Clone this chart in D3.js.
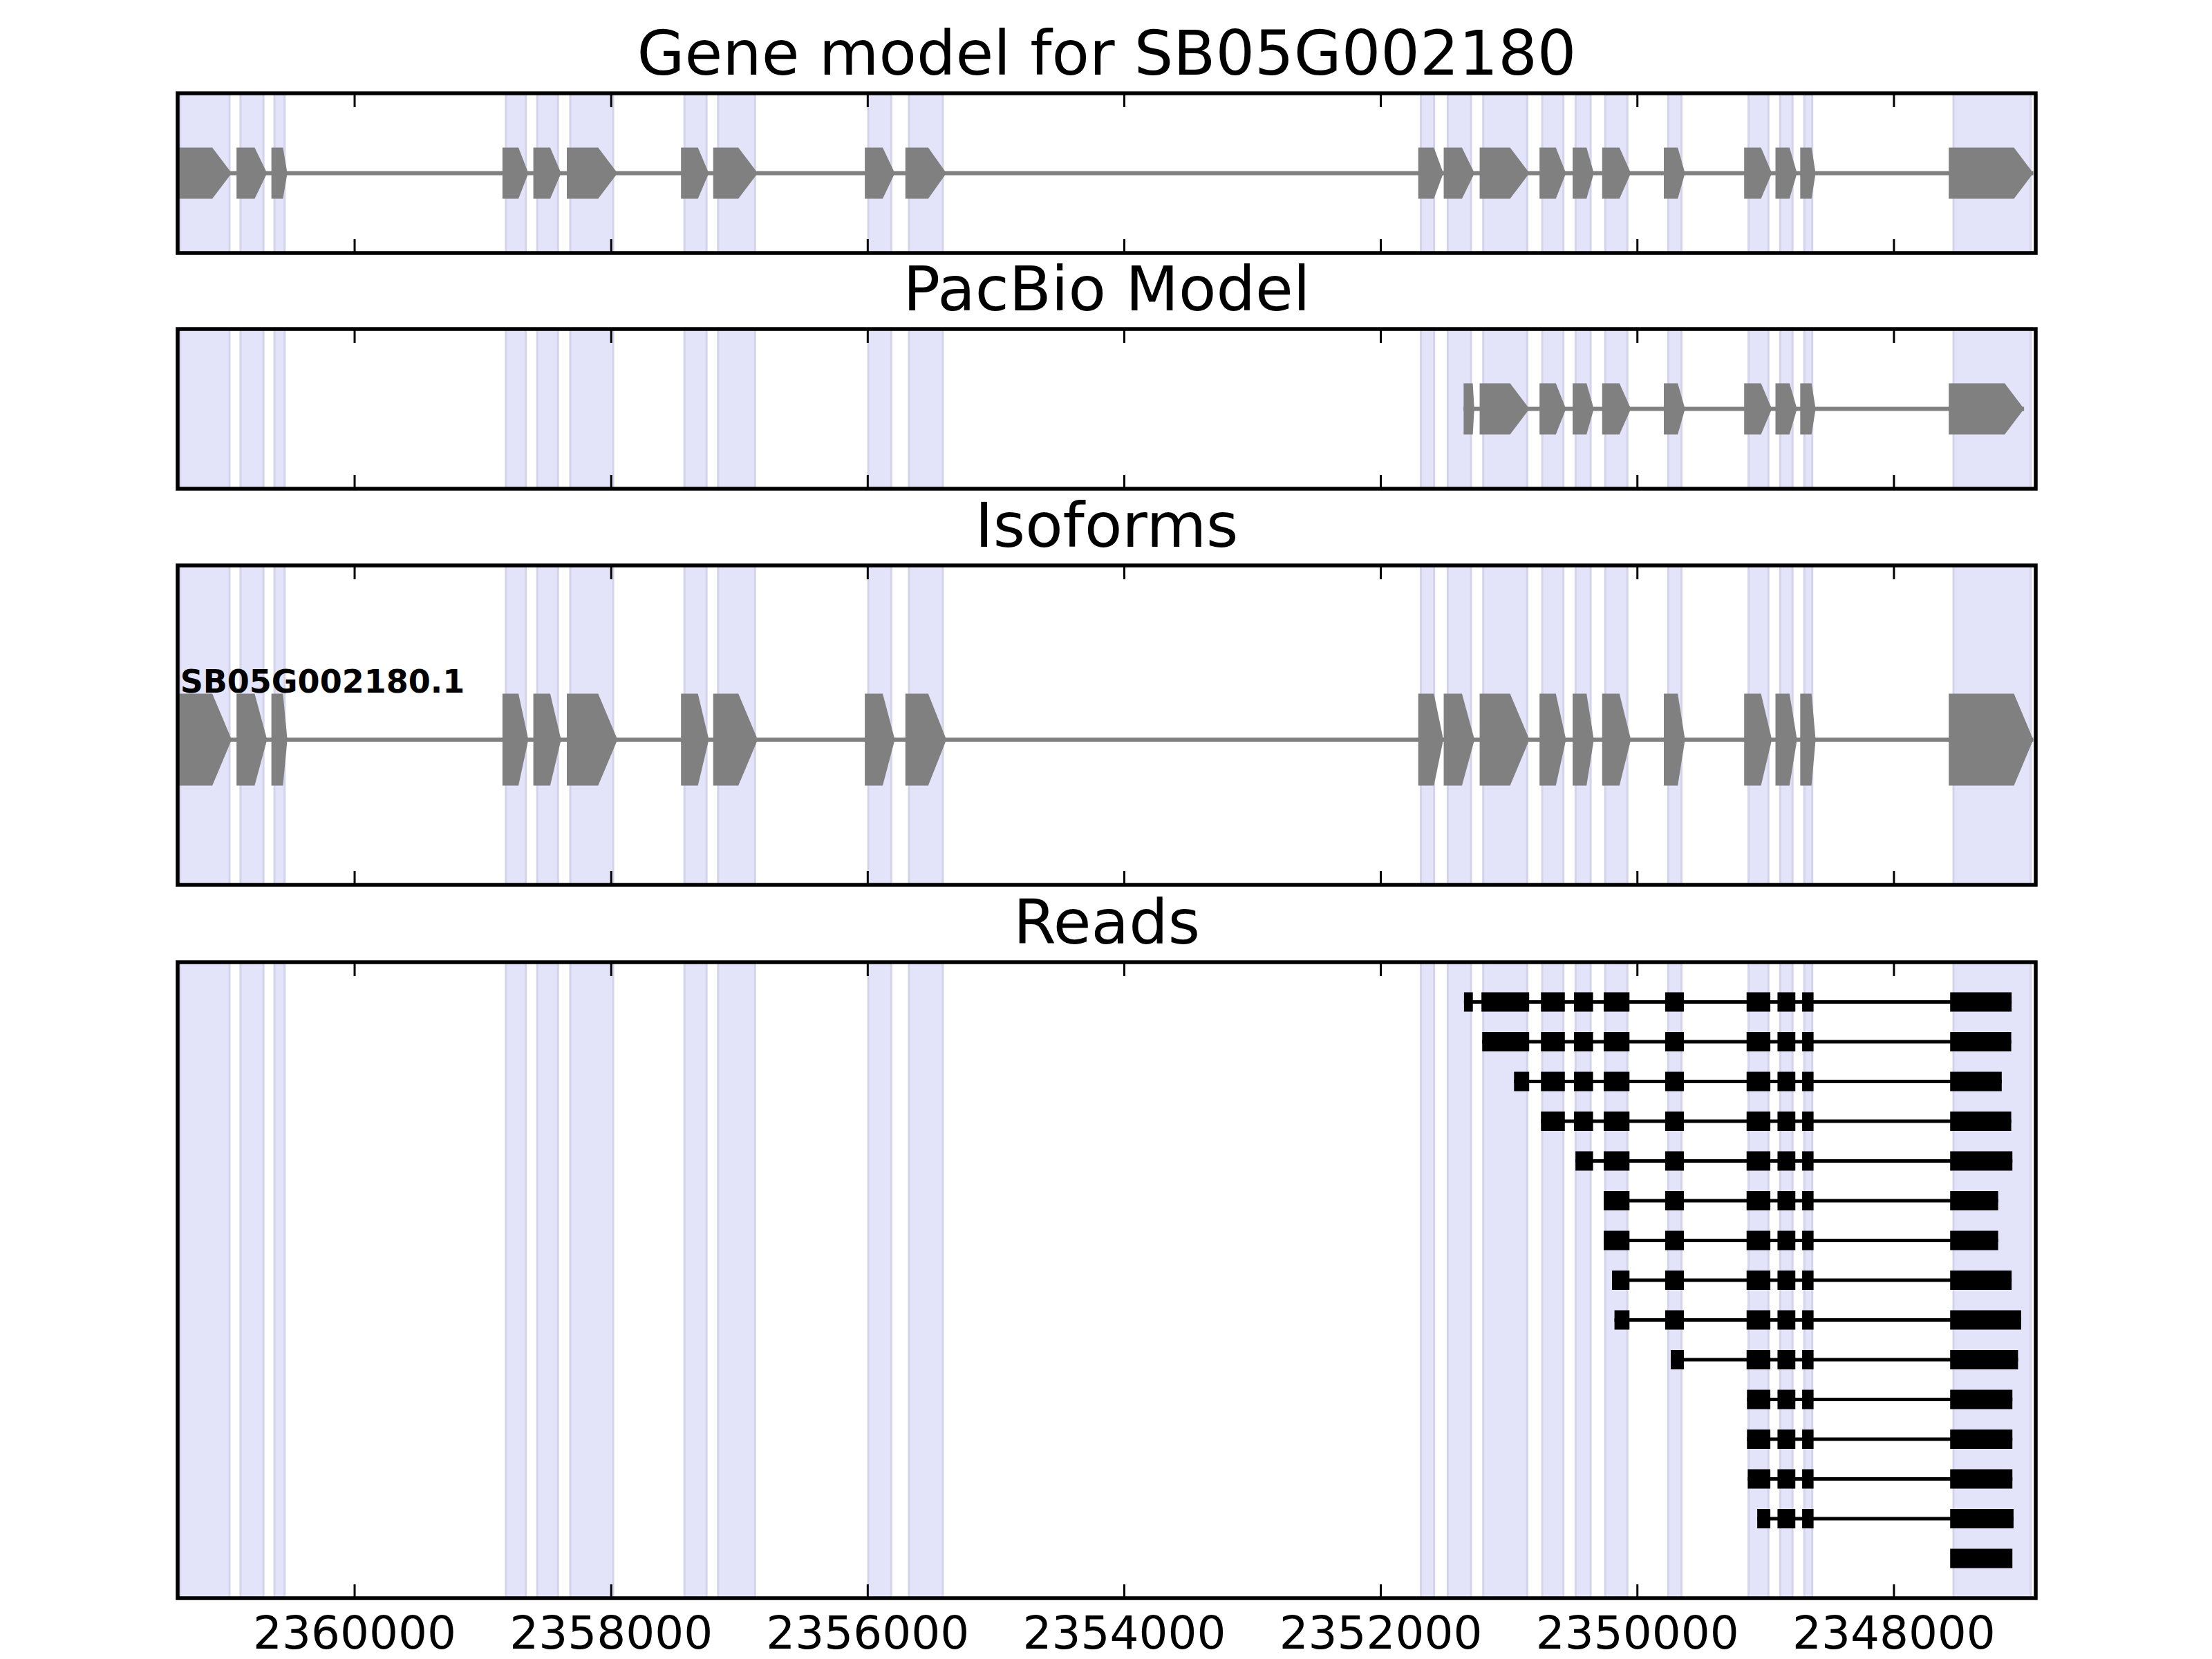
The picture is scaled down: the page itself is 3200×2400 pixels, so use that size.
<!DOCTYPE html>
<html>
<head>
<meta charset="utf-8">
<script src="https://cdn.jsdelivr.net/npm/d3@7"></script>
<style>
  body { margin: 0; background: #fff; }
  svg { display: block; }
  text { font-family: "DejaVu Sans", sans-serif; fill: #000; }
</style>
</head>
<body>
<div class="container"></div>
<script>
// genomic window (reversed axis, gene on minus strand)
const xDomain = [2361377, 2346892]
const xTicks = [2360000, 2358000, 2356000, 2354000, 2352000, 2350000, 2348000]

const panelTitles = ["Gene model for SB05G002180", "PacBio Model", "Isoforms", "Reads"]
const isoformNames = ["SB05G002180.1"]

// shaded exon regions, drawn in every panel
const exonSpans = [
  [2361358, 2360973], [2360887, 2360708], [2360622, 2360543],
  [2358818, 2358663], [2358574, 2358412], [2358316, 2357982],
  [2357426, 2357254], [2357164, 2356876], [2355993, 2355814],
  [2355676, 2355412], [2351685, 2351582], [2351476, 2351295],
  [2351199, 2350856], [2350739, 2350574], [2350479, 2350362],
  [2350248, 2350076], [2349757, 2349654], [2349131, 2348976],
  [2348884, 2348788], [2348696, 2348634], [2347533, 2346931]
]

const geneModelExons = [
  [2361368, 2360956], [2360918, 2360680], [2360646, 2360522],
  [2358845, 2358643], [2358604, 2358388], [2358343, 2357948],
  [2357453, 2357236], [2357202, 2356855], [2356020, 2355786],
  [2355704, 2355384], [2351706, 2351510], [2351507, 2351267],
  [2351227, 2350839], [2350760, 2350554], [2350502, 2350337],
  [2350272, 2350048], [2349791, 2349626], [2349165, 2348949],
  [2348921, 2348753], [2348728, 2348608], [2347570, 2346911]
]

const pacbioExons = [
  [2351352, 2351269], [2351227, 2350839], [2350760, 2350554],
  [2350502, 2350337], [2350272, 2350048], [2349791, 2349626],
  [2349165, 2348949], [2348921, 2348753], [2348728, 2348608],
  [2347570, 2346983]
]

const isoformExons = [
  [2361368, 2360956], [2360918, 2360680], [2360646, 2360522],
  [2358845, 2358643], [2358604, 2358388], [2358343, 2357948],
  [2357453, 2357236], [2357202, 2356855], [2356020, 2355786],
  [2355704, 2355384], [2351706, 2351510], [2351507, 2351267],
  [2351227, 2350839], [2350760, 2350554], [2350502, 2350337],
  [2350272, 2350048], [2349791, 2349626], [2349165, 2348949],
  [2348921, 2348753], [2348728, 2348608], [2347570, 2346911]
]

// aligned reads, one list of blocks per row (top to bottom)
const reads = [
  [[2351349, 2351280], [2351213, 2350841], [2350749, 2350563], [2350492, 2350343], [2350260, 2350059], [2349781, 2349635], [2349146, 2348961], [2348905, 2348766], [2348713, 2348624], [2347559, 2347080]],
  [[2351207, 2350841], [2350749, 2350563], [2350492, 2350343], [2350260, 2350059], [2349781, 2349635], [2349146, 2348961], [2348905, 2348766], [2348713, 2348624], [2347559, 2347083]],
  [[2350959, 2350841], [2350749, 2350563], [2350492, 2350343], [2350260, 2350059], [2349781, 2349635], [2349146, 2348961], [2348905, 2348766], [2348713, 2348624], [2347559, 2347157]],
  [[2350749, 2350563], [2350492, 2350343], [2350260, 2350059], [2349781, 2349635], [2349146, 2348961], [2348905, 2348766], [2348713, 2348624], [2347559, 2347083]],
  [[2350480, 2350343], [2350260, 2350059], [2349781, 2349635], [2349146, 2348961], [2348905, 2348766], [2348713, 2348624], [2347559, 2347074]],
  [[2350260, 2350059], [2349781, 2349635], [2349146, 2348961], [2348905, 2348766], [2348713, 2348624], [2347559, 2347185]],
  [[2350260, 2350059], [2349781, 2349635], [2349146, 2348961], [2348905, 2348766], [2348713, 2348624], [2347559, 2347185]],
  [[2350195, 2350059], [2349781, 2349635], [2349146, 2348961], [2348905, 2348766], [2348713, 2348624], [2347559, 2347080]],
  [[2350176, 2350059], [2349781, 2349635], [2349146, 2348961], [2348905, 2348766], [2348713, 2348624], [2347559, 2347006]],
  [[2349737, 2349635], [2349146, 2348961], [2348905, 2348766], [2348713, 2348624], [2347559, 2347030]],
  [[2349143, 2348961], [2348905, 2348766], [2348713, 2348624], [2347559, 2347074]],
  [[2349143, 2348961], [2348905, 2348766], [2348713, 2348624], [2347559, 2347074]],
  [[2349137, 2348961], [2348905, 2348766], [2348713, 2348624], [2347559, 2347074]],
  [[2349063, 2348961], [2348905, 2348766], [2348713, 2348624], [2347559, 2347065]],
  [[2347559, 2347074]]
]

const drawChart = () => {
  const w = 3200
  const h = 2400
  const left = 257
  const right = 2945
  const panels = [
    { top: 135, bottom: 366 },
    { top: 476, bottom: 707 },
    { top: 818, bottom: 1280 },
    { top: 1392, bottom: 2312 }
  ]

  const xScale = d3.scaleLinear().domain(xDomain).range([left, right])

  const svg = d3.select(".container")
    .append("svg")
    .attr("width", w)
    .attr("height", h)

  svg.append("rect").attr("width", w).attr("height", h).attr("fill", "#fff")

  // arrow-shaped exon, pointing toward lower coordinates (right)
  const exonPath = (e, cy, eh) => {
    const x1 = xScale(e[0])
    const x2 = xScale(e[1])
    const len = x2 - x1
    const head = Math.max(0, Math.min(28, 0.55 * (len - 11.5)))
    return `M${x1},${cy - eh / 2}L${x2 - head},${cy - eh / 2}L${x2},${cy}` +
      `L${x2 - head},${cy + eh / 2}L${x1},${cy + eh / 2}Z`
  }

  const drawTranscript = (g, exons, cy, eh) => {
    g.append("line")
      .attr("x1", xScale(d3.max(exons, d => d[0])))
      .attr("x2", xScale(d3.min(exons, d => d[1])))
      .attr("y1", cy).attr("y2", cy)
      .attr("stroke", "#808080")
      .attr("stroke-width", 6)
    g.selectAll("path.exon")
      .data(exons)
      .enter()
      .append("path")
      .attr("class", "exon")
      .attr("d", d => exonPath(d, cy, eh))
      .attr("fill", "#808080")
  }

  panels.forEach((p, i) => {
    const g = svg.append("g")

    // shaded spans
    g.selectAll("rect.span")
      .data(exonSpans)
      .enter()
      .append("rect")
      .attr("class", "span")
      .attr("x", d => xScale(d[0]))
      .attr("width", d => xScale(d[1]) - xScale(d[0]))
      .attr("y", p.top)
      .attr("height", p.bottom - p.top)
      .attr("fill", "#e3e3fa")
      .attr("stroke", "#d3d3ea")
      .attr("stroke-width", 3)

    // ticks on top and bottom edges, pointing inward
    const topAxis = g.append("g")
      .attr("transform", "translate(0," + p.top + ")")
      .call(d3.axisTop(xScale).tickValues(xTicks).tickSizeInner(-20).tickSizeOuter(0).tickFormat(""))
    const bottomAxis = g.append("g")
      .attr("transform", "translate(0," + p.bottom + ")")
      .call(d3.axisBottom(xScale).tickValues(xTicks).tickSizeInner(-20).tickSizeOuter(0)
        .tickPadding(26)
        .tickFormat(i === panels.length - 1 ? d3.format("d") : ""))
    ;[topAxis, bottomAxis].forEach(a => {
      a.select(".domain").remove()
      a.selectAll(".tick line").attr("stroke", "#000").attr("stroke-width", 3)
      a.selectAll(".tick text")
        .attr("font-size", 66)
        .attr("font-family", "DejaVu Sans")
        .attr("fill", "#000")
    })

    // title
    svg.append("text")
      .attr("x", (left + right) / 2)
      .attr("y", p.top - 27)
      .attr("text-anchor", "middle")
      .attr("font-size", 89)
      .text(panelTitles[i])
  })

  // gene model
  const y0 = d3.scaleLinear().domain([-1, 1]).range([panels[0].bottom, panels[0].top])
  drawTranscript(svg.append("g"), geneModelExons, y0(0), 74)

  // PacBio model
  const y1 = d3.scaleLinear().domain([-1, 1]).range([panels[1].bottom, panels[1].top])
  drawTranscript(svg.append("g"), pacbioExons, y1(0), 74)

  // isoforms
  const y2 = d3.scaleLinear().domain([-0.5, 0.6]).range([panels[2].bottom, panels[2].top])
  const isoH = 133
  drawTranscript(svg.append("g"), isoformExons, y2(0), isoH)
  svg.append("text")
    .attr("x", xScale(d3.max(isoformExons, d => d[0])) + 2)
    .attr("y", y2(0) - isoH / 2 - 2)
    .attr("font-size", 46)
    .attr("font-weight", "bold")
    .text(isoformNames[0])

  // reads
  const y3 = d3.scaleLinear().domain([0, 16]).range([panels[3].top, panels[3].bottom])
  const readG = svg.append("g")
  reads.forEach((blocks, r) => {
    const cy = y3(r + 1)
    if (blocks.length > 1) {
      readG.append("line")
        .attr("x1", xScale(d3.max(blocks, d => d[0])))
        .attr("x2", xScale(d3.min(blocks, d => d[1])))
        .attr("y1", cy).attr("y2", cy)
        .attr("stroke", "#000")
        .attr("stroke-width", 5)
    }
    readG.selectAll("rect.r" + r)
      .data(blocks)
      .enter()
      .append("rect")
      .attr("class", "r" + r)
      .attr("x", d => xScale(d[0]))
      .attr("width", d => xScale(d[1]) - xScale(d[0]))
      .attr("y", cy - 14)
      .attr("height", 28)
      .attr("fill", "#000")
  })

  // frames on top
  panels.forEach(p => {
    svg.append("rect")
      .attr("x", left)
      .attr("y", p.top)
      .attr("width", right - left)
      .attr("height", p.bottom - p.top)
      .attr("fill", "none")
      .attr("stroke", "#000")
      .attr("stroke-width", 5.5)
  })
}

document.addEventListener("DOMContentLoaded", drawChart)
</script>
</body>
</html>
